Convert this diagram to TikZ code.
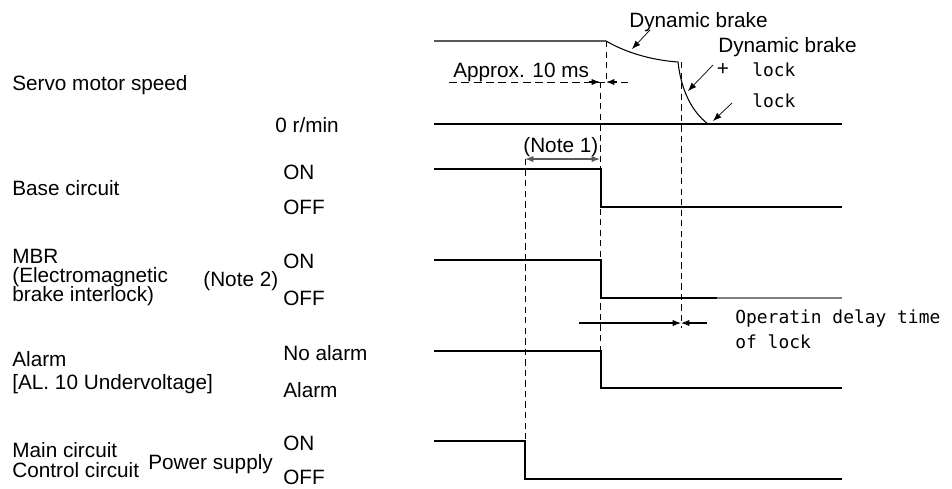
\documentclass[tikz,border=0pt]{standalone}
\usepackage{fontspec}
\setmainfont{Liberation Sans}
\newfontfamily\lockfont{DejaVu Sans Mono}
\usetikzlibrary{arrows.meta,positioning}

\begin{document}
\begin{tikzpicture}[x=0.02cm,y=-0.02cm,>={Latex[length=4.8pt,width=3.6pt]},
 font=\fontsize{11.8}{13}\selectfont,
 sig/.style={line width=0.6pt},
 tick/.style={line width=0.5pt,dash pattern=on 3.6pt off 2.4pt},
 lbl/.style={anchor=west,inner sep=0pt,text height=8.4pt,text depth=0pt},
 mono/.style={lbl,font=\lockfont\fontsize{10.2}{12}\selectfont,text height=7.4pt}]
\useasboundingbox (0,0) rectangle (952,488);
% signal names
\node[lbl] (spd) at (12,83) {Servo motor speed};
\node[lbl] (base) at (12,188) {Base circuit};
\node[lbl] (mbr) at (12,256) {MBR};
\node[lbl] (mbr2) at (12,275) {(Electromagnetic};
\node[lbl] (mbr3) at (12,294) {brake interlock)};
\node[lbl] (note2) at (203,279) {(Note 2)};
\node[lbl] (alm) at (12,359) {Alarm};
\node[lbl] (alm2) at (12,382) {[AL. 10 Undervoltage]};
\node[lbl] (pwr) at (12,450) {Main circuit};
\node[lbl] (pwr2) at (12,470) {Control circuit};
\node[lbl] (psup) at (148,462) {Power supply};
% levels
\node[lbl] (zero) at (275,125) {0 r/min};
\node[lbl] (bon) at (283,172) {ON};
\node[lbl] (boff) at (283,207) {OFF};
\node[lbl] (mon) at (283,261) {ON};
\node[lbl] (moff) at (283,298) {OFF};
\node[lbl] (aon) at (283,353) {No alarm};
\node[lbl] (aoff) at (283,390) {Alarm};
\node[lbl] (pon) at (283,443) {ON};
\node[lbl] (poff) at (283,477) {OFF};
% time marks
\coordinate (brk) at (632,49);
\coordinate (lk) at (688,91);
\coordinate (stop) at (713,121);
% waveforms
\draw[sig] (434,41) -- (606,41) .. controls (625,52) and (650,60) .. (678,62)
 .. controls (681,90) and (692,112) .. (708,124);
\draw[sig] (434,124) -- (842,124);
\draw[sig] (434,169) -- (601,169) -- (601,207) -- (842,207);
\draw[sig] (434,260) -- (601,260) -- (601,298) -- (717,298);
\draw[sig,gray] (717,298) -- (842,298);
\draw[sig] (434,351) -- (601,351) -- (601,388) -- (842,388);
\draw[sig] (434,441) -- (525,441) -- (525,479) -- (842,479);
% dashed guides
\draw[tick] (525,159) -- (525,447);
\draw[tick] (600,82) -- (600,351);
\draw[tick] (606,41) -- (606,82);
\draw[tick] (681,62) -- (681,328);
\draw[tick,dash pattern=on 4.5pt off 2.5pt] (449,82) -- (628,82);
% dimensions
\draw[->,sig] (589,82) -- (600,82);
\draw[->,sig] (617,82) -- (606,82);
\draw[<->,sig,gray!70!black] (525,159) -- (600,159);
\draw[->,sig] (579,323) -- (600,323) -- (681,323);
\draw[->,sig] (707,323) -- (681,323);
\node[lbl] (apx) at (453,70) {Approx. 10 ms};
\node[lbl] (n1) at (523,145) {(Note 1)};
\node[mono] (dly) at (735,317) {Operatin delay time};
\node[mono] (dly2) at (735,342) {of lock};
% brake labels
\node[lbl] (dyn) at (629,20) {Dynamic brake};
\node[lbl] (dyn2) at (718,45) {Dynamic brake};
\node[lbl,anchor=center] (plus) at (723,68) {+};
\node[mono] (lock1) at (752,70) {lock};
\node[mono] (lock2) at (752,101) {lock};
\draw[<-] (brk) -- ++(18,-19);
\draw[<-] (lk) -- ++(25,-26);
\draw[<-] (stop) -- ++(19,-18);
\end{tikzpicture}
\end{document}
